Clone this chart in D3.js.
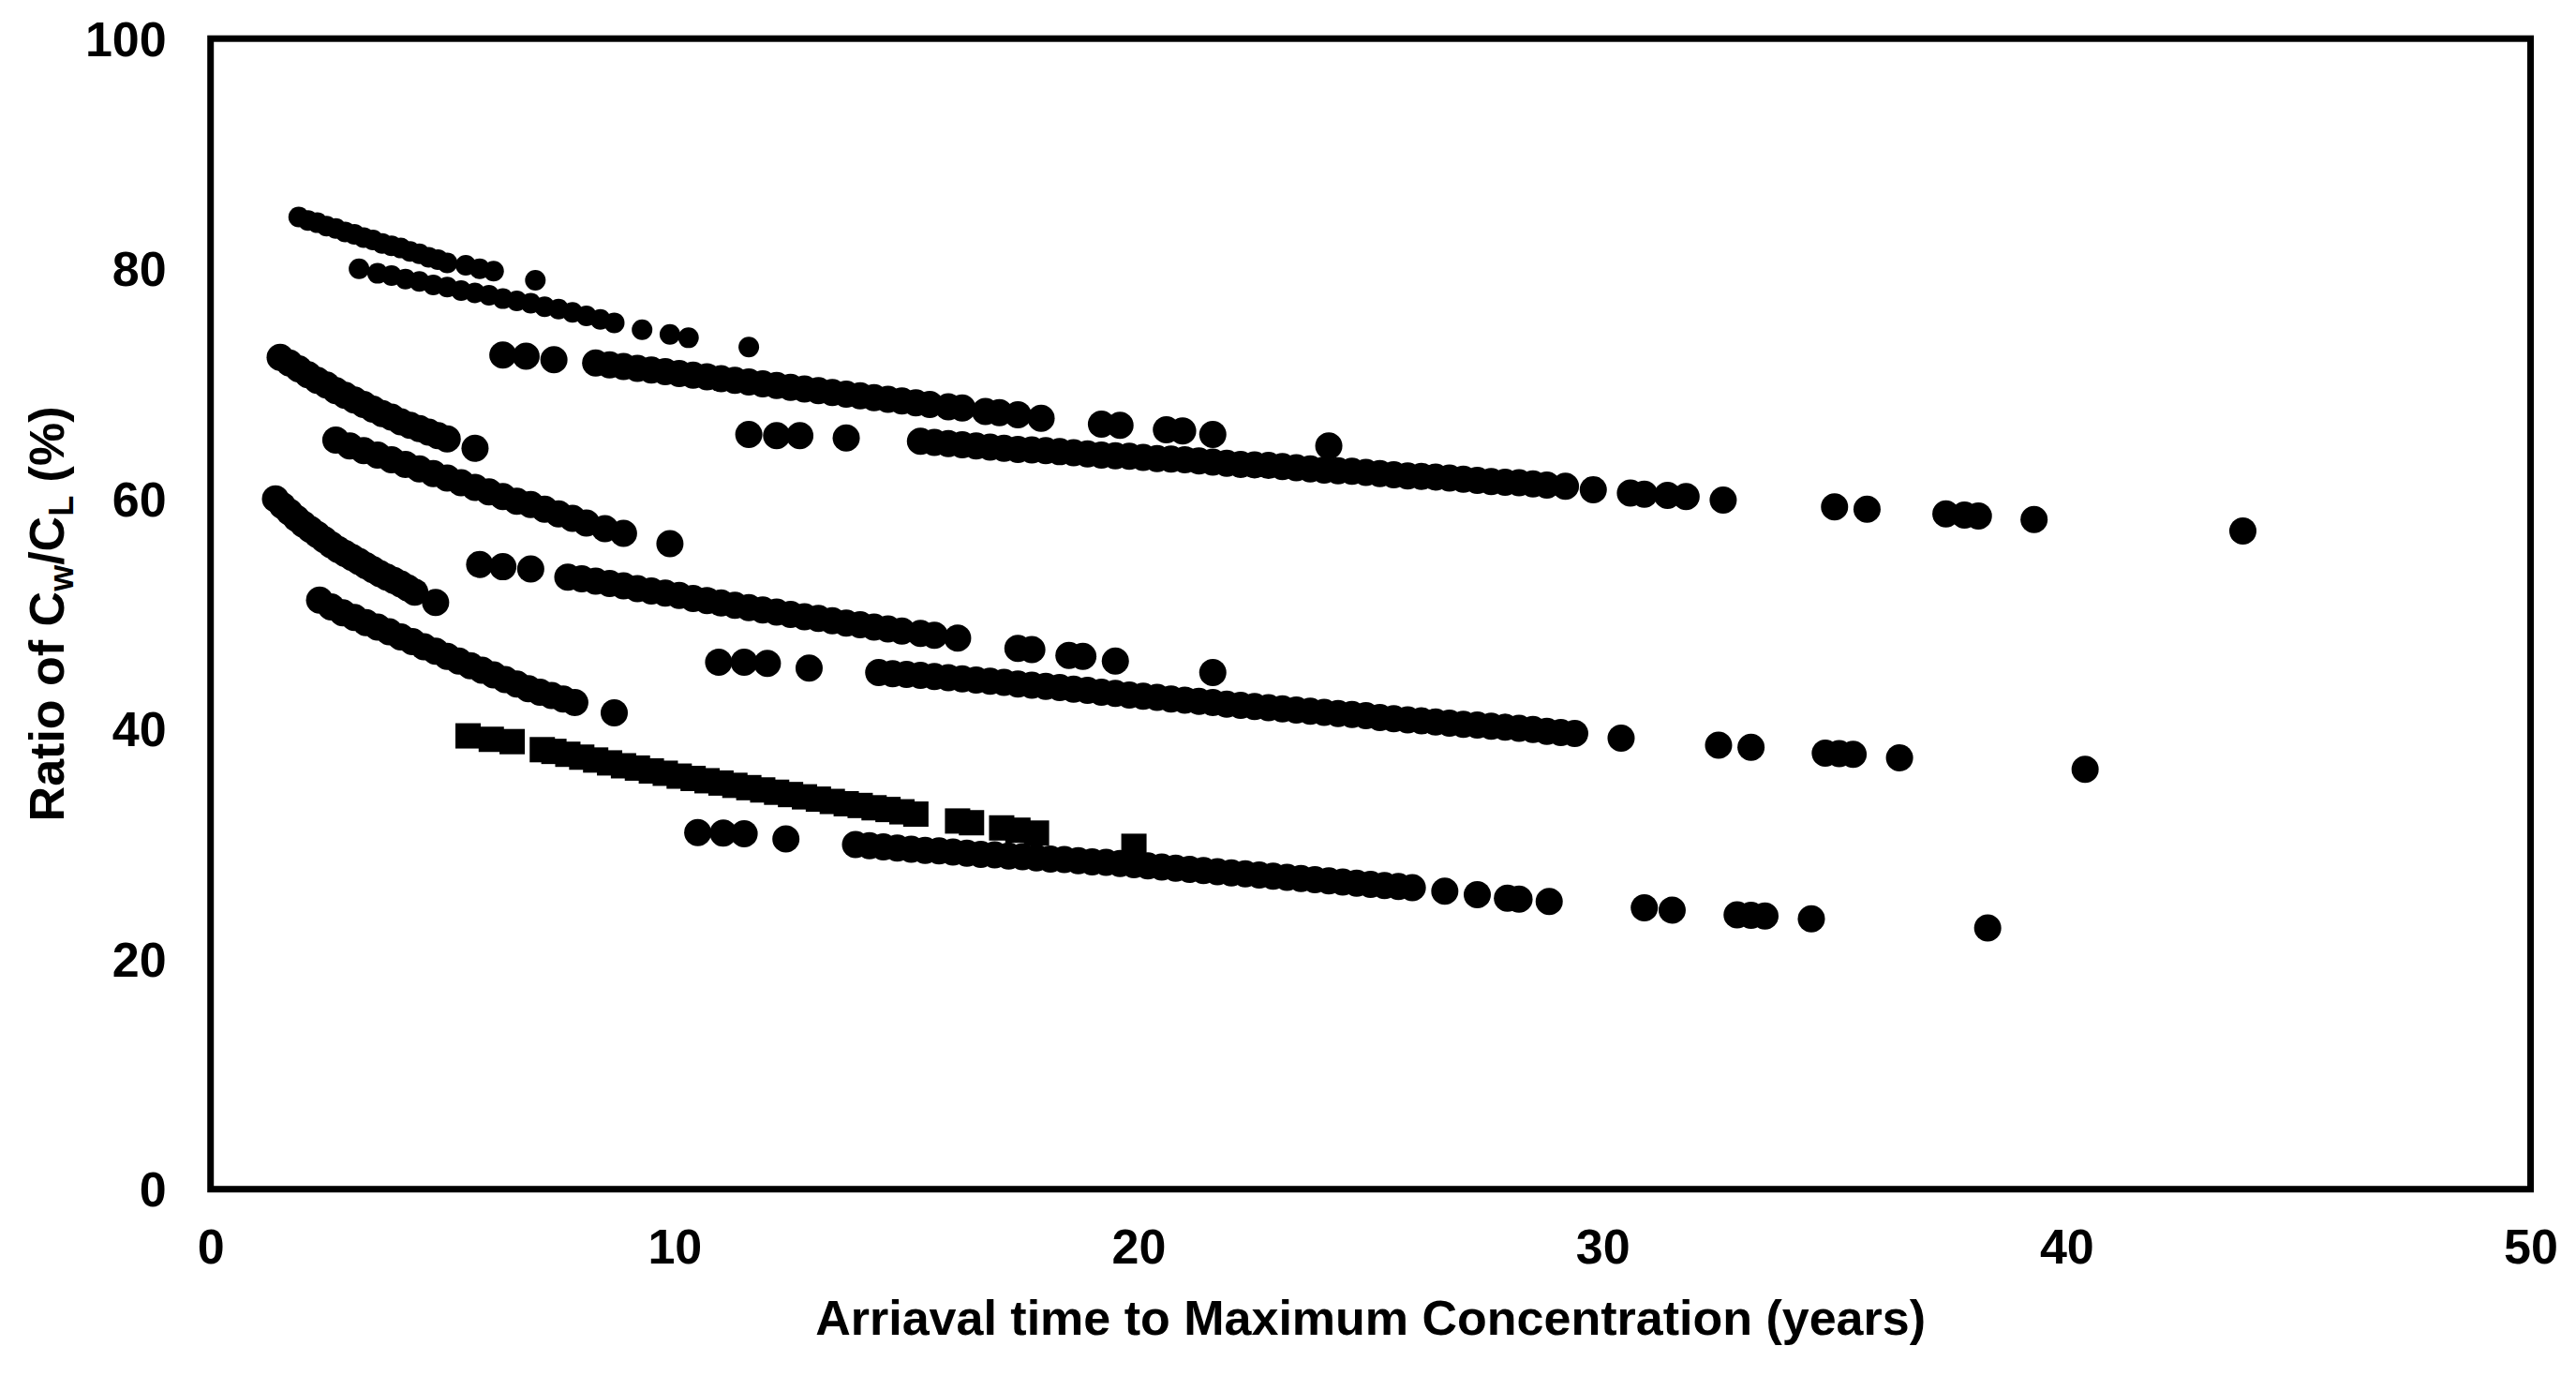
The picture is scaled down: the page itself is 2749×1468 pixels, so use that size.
<!DOCTYPE html>
<html>
<head>
<meta charset="utf-8">
<script src="https://cdn.jsdelivr.net/npm/d3@7"></script>
<style>
  html, body { margin: 0; padding: 0; background: #fff; }
  svg { display: block; }
  text { font-family: "Liberation Sans", Arial, sans-serif; font-weight: bold; fill: #000; }
</style>
</head>
<body>
<svg width="2749" height="1468"></svg>
<script>
'use strict'

const WIDTH = 2749;
const HEIGHT = 1468;
const LEFT = 224.7, RIGHT = 2700.5, TOP = 41.2, BOTTOM = 1268.7;
const R_SMALL = 11;
const R_BIG = 14.5;
const SQUARE = 27;

const xTicks = [0, 10, 20, 30, 40, 50];
const yTicks = [0, 20, 40, 60, 80, 100];

// top group
const seriesA1 = [[1.9,84.5],[2.1,84.2],[2.3,84.0],[2.5,83.7],[2.7,83.5],[2.9,83.2],[3.1,83.0],[3.3,82.7],[3.5,82.5],[3.7,82.2],[3.9,82.0],[4.1,81.8],[4.3,81.5],[4.5,81.3],[4.7,81.0],[4.9,80.8],[5.1,80.5],[5.5,80.3],[5.8,80.0],[6.1,79.8],[7.0,79.0]];
const seriesA2 = [[3.2,80.0],[3.6,79.6],[3.9,79.4],[4.2,79.1],[4.5,78.9],[4.8,78.6],[5.1,78.4],[5.4,78.1],[5.7,77.9],[6.0,77.7],[6.3,77.4],[6.6,77.2],[6.9,77.0],[7.2,76.7],[7.5,76.5],[7.8,76.2],[8.1,75.9],[8.4,75.6],[8.7,75.3],[9.3,74.7],[9.9,74.3],[10.3,74.0],[11.6,73.2]];
const seriesA3 = [[6.3,72.5],[6.8,72.4],[7.4,72.1],[8.3,71.8],[8.6,71.65],[8.9,71.5],[9.2,71.35],[9.5,71.2],[9.8,71.05],[10.1,70.9],[10.4,70.75],[10.7,70.6],[11.0,70.45],[11.3,70.3],[11.6,70.15],[11.9,70.0],[12.2,69.85],[12.5,69.7],[12.8,69.55],[13.1,69.4],[13.4,69.25],[13.7,69.1],[14.0,68.95],[14.3,68.8],[14.6,68.65],[14.9,68.5],[15.2,68.35],[15.5,68.2],[15.9,68.0],[16.2,67.9],[16.7,67.6],[17.0,67.5],[17.4,67.3],[17.9,67.0],[19.2,66.5],[19.6,66.4],[20.6,66.0],[20.95,65.9],[21.6,65.6],[24.1,64.6]];
const seriesA4 = [[11.6,65.6],[12.2,65.5],[12.7,65.5],[13.7,65.3],[15.3,65.0],[15.6,64.9],[15.9,64.8],[16.2,64.7],[16.5,64.6],[16.8,64.5],[17.1,64.4],[17.4,64.3],[17.7,64.25],[18.0,64.2],[18.3,64.1],[18.6,64.0],[18.9,63.9],[19.2,63.8],[19.5,63.75],[19.8,63.7],[20.1,63.6],[20.4,63.5],[20.7,63.45],[21.0,63.4],[21.3,63.3],[21.6,63.2],[21.9,63.1],[22.2,63.0],[22.5,62.95],[22.8,62.9],[23.1,62.8],[23.4,62.7],[23.7,62.6],[24.0,62.5],[24.3,62.45],[24.6,62.4],[24.9,62.3],[25.2,62.2],[25.5,62.1],[25.8,62.0],[26.1,61.95],[26.4,61.9],[26.7,61.8],[27.0,61.7],[27.3,61.6],[27.6,61.5],[27.9,61.45],[28.2,61.4],[28.5,61.3],[28.8,61.2],[29.2,61.1],[29.8,60.8],[30.6,60.5],[30.9,60.4],[31.4,60.3],[31.8,60.2],[32.6,59.9],[35.0,59.3],[35.7,59.1],[37.4,58.7],[37.8,58.6],[38.1,58.5],[39.3,58.2],[43.8,57.2]];

// second group
const seriesB1 = [[1.5,72.3],[1.7,71.8],[1.9,71.3],[2.1,70.8],[2.3,70.3],[2.5,69.9],[2.7,69.4],[2.9,69.0],[3.1,68.6],[3.3,68.2],[3.5,67.8],[3.7,67.4],[3.9,67.1],[4.1,66.7],[4.3,66.4],[4.5,66.1],[4.7,65.8],[4.9,65.5],[5.1,65.2],[5.7,64.4]];
const seriesB2 = [[2.7,65.1],[3.0,64.6],[3.3,64.2],[3.6,63.8],[3.9,63.4],[4.2,63.0],[4.5,62.6],[4.8,62.2],[5.1,61.8],[5.4,61.4],[5.7,61.0],[6.0,60.6],[6.3,60.2],[6.6,59.8],[6.9,59.5],[7.2,59.1],[7.5,58.7],[7.8,58.3],[8.1,57.9],[8.5,57.4],[8.9,57.0],[9.9,56.1]];
const seriesB3 = [[5.8,54.3],[6.3,54.1],[6.9,53.9],[7.7,53.2],[8.0,53.05],[8.3,52.85],[8.6,52.65],[8.9,52.45],[9.2,52.2],[9.5,52.0],[9.8,51.8],[10.1,51.6],[10.4,51.35],[10.7,51.15],[11.0,50.95],[11.3,50.75],[11.6,50.55],[11.9,50.35],[12.2,50.15],[12.5,49.95],[12.8,49.75],[13.1,49.6],[13.4,49.4],[13.7,49.2],[14.0,49.05],[14.3,48.85],[14.6,48.7],[14.9,48.5],[15.3,48.3],[15.6,48.15],[16.1,47.9],[17.4,47.0],[17.7,46.9],[18.5,46.4],[18.8,46.3],[19.5,45.9],[21.6,44.9]];
const seriesB4 = [[10.95,45.8],[11.5,45.8],[12.0,45.7],[12.9,45.3],[14.4,44.9],[14.7,44.8],[15.0,44.75],[15.3,44.65],[15.6,44.55],[15.9,44.45],[16.2,44.35],[16.5,44.25],[16.8,44.15],[17.1,44.05],[17.4,43.9],[17.7,43.8],[18.0,43.7],[18.3,43.6],[18.6,43.45],[18.9,43.35],[19.2,43.2],[19.5,43.1],[19.8,42.95],[20.1,42.85],[20.4,42.75],[20.7,42.6],[21.0,42.5],[21.3,42.4],[21.6,42.3],[21.9,42.15],[22.2,42.05],[22.5,41.95],[22.8,41.85],[23.1,41.75],[23.4,41.65],[23.7,41.55],[24.0,41.45],[24.3,41.35],[24.6,41.25],[24.9,41.15],[25.2,41.0],[25.5,40.9],[25.8,40.8],[26.1,40.7],[26.4,40.6],[26.7,40.5],[27.0,40.4],[27.3,40.35],[27.6,40.25],[27.9,40.15],[28.2,40.05],[28.5,39.95],[28.8,39.8],[29.1,39.7],[29.4,39.6],[30.4,39.2],[32.5,38.6],[33.2,38.4],[34.8,37.9],[35.1,37.85],[35.4,37.8],[36.4,37.5],[40.4,36.5]];

// third group (C3 drawn with squares)
const seriesC1 = [[1.4,60.0],[1.55,59.4],[1.7,58.85],[1.85,58.3],[2.0,57.8],[2.15,57.35],[2.3,56.9],[2.45,56.45],[2.6,56.0],[2.75,55.6],[2.9,55.25],[3.05,54.9],[3.2,54.55],[3.35,54.2],[3.5,53.85],[3.65,53.5],[3.8,53.2],[3.95,52.9],[4.1,52.6],[4.25,52.25],[4.4,51.9],[4.85,51.0]];
const seriesC2 = [[2.35,51.2],[2.6,50.6],[2.85,50.1],[3.1,49.7],[3.35,49.25],[3.6,48.85],[3.85,48.45],[4.1,48.0],[4.35,47.6],[4.6,47.15],[4.85,46.75],[5.1,46.3],[5.35,45.9],[5.6,45.5],[5.85,45.1],[6.1,44.7],[6.35,44.3],[6.6,43.9],[6.85,43.5],[7.1,43.2],[7.35,42.9],[7.6,42.6],[7.85,42.3],[8.7,41.4]];
const seriesC3 = [[5.55,39.4],[6.05,39.1],[6.5,38.9],[7.15,38.2],[7.4,38.05],[7.7,37.8],[8.0,37.55],[8.3,37.3],[8.6,37.05],[8.9,36.8],[9.2,36.6],[9.5,36.35],[9.8,36.15],[10.1,35.9],[10.4,35.7],[10.7,35.5],[11.0,35.3],[11.3,35.1],[11.6,34.9],[11.9,34.7],[12.2,34.5],[12.5,34.3],[12.8,34.1],[13.1,33.9],[13.4,33.7],[13.7,33.5],[14.0,33.35],[14.3,33.15],[14.6,33.0],[14.9,32.8],[15.2,32.6],[16.1,32.0],[16.4,31.85],[17.05,31.4],[17.4,31.2],[17.8,30.95],[19.9,29.8]];
const seriesC4 = [[10.5,31.0],[11.05,30.95],[11.5,30.9],[12.4,30.45],[13.9,29.95],[14.2,29.85],[14.5,29.75],[14.8,29.65],[15.1,29.55],[15.4,29.45],[15.7,29.4],[16.0,29.3],[16.3,29.2],[16.6,29.1],[16.9,29.05],[17.2,28.95],[17.5,28.9],[17.8,28.8],[18.1,28.7],[18.4,28.65],[18.7,28.55],[19.0,28.45],[19.3,28.4],[19.6,28.3],[19.9,28.2],[20.2,28.1],[20.5,28.0],[20.8,27.9],[21.1,27.8],[21.4,27.7],[21.7,27.6],[22.0,27.5],[22.3,27.4],[22.6,27.3],[22.9,27.2],[23.2,27.1],[23.5,27.0],[23.8,26.9],[24.1,26.8],[24.4,26.7],[24.7,26.6],[25.0,26.5],[25.3,26.4],[25.6,26.3],[25.9,26.2],[26.6,25.9],[27.3,25.6],[27.95,25.3],[28.2,25.2],[28.85,25.0],[30.9,24.45],[31.5,24.25],[32.9,23.85],[33.2,23.8],[33.5,23.75],[34.5,23.5],[38.3,22.7]];

const circleSeries = [
  { data: seriesA1, r: R_SMALL },
  { data: seriesA2, r: R_SMALL },
  { data: seriesA3, r: R_BIG },
  { data: seriesA4, r: R_BIG },
  { data: seriesB1, r: R_BIG },
  { data: seriesB2, r: R_BIG },
  { data: seriesB3, r: R_BIG },
  { data: seriesB4, r: R_BIG },
  { data: seriesC1, r: R_BIG },
  { data: seriesC2, r: R_BIG },
  { data: seriesC4, r: R_BIG }
];

const svg = d3.select('svg');

const x = d3.scaleLinear().domain([0, 50]).range([LEFT, RIGHT]);
const y = d3.scaleLinear().domain([0, 100]).range([BOTTOM, TOP]);

drawAxes();
drawPoints();
drawFrame();
drawTitles();

function drawAxes() {
  // tick labels only, the chart has no tick marks
  const xAxis = svg.append('g')
    .attr('transform', `translate(0,${BOTTOM})`)
    .call(d3.axisBottom(x).tickValues(xTicks).tickSize(0).tickPadding(0));
  xAxis.select('.domain').remove();
  xAxis.selectAll('text')
    .attr('y', 79)
    .attr('dy', 0)
    .style('font-size', '52px');

  const yAxis = svg.append('g')
    .attr('transform', `translate(${LEFT},0)`)
    .call(d3.axisLeft(y).tickValues(yTicks).tickSize(0).tickPadding(0));
  yAxis.select('.domain').remove();
  yAxis.selectAll('text')
    .attr('x', -47)
    .attr('dy', 0)
    .attr('y', 18)
    .style('font-size', '52px');
}

function drawPoints() {
  const g = svg.append('g');

  circleSeries.forEach(s => {
    g.append('g')
      .selectAll('circle')
      .data(s.data)
      .join('circle')
      .attr('cx', d => x(d[0]))
      .attr('cy', d => y(d[1]))
      .attr('r', s.r)
      .style('fill', '#000');
  });

  g.append('g')
    .selectAll('rect')
    .data(seriesC3)
    .join('rect')
    .attr('x', d => x(d[0]) - SQUARE / 2)
    .attr('y', d => y(d[1]) - SQUARE / 2)
    .attr('width', SQUARE)
    .attr('height', SQUARE)
    .style('fill', '#000');
}

function drawFrame() {
  svg.append('rect')
    .attr('x', LEFT)
    .attr('y', TOP)
    .attr('width', RIGHT - LEFT)
    .attr('height', BOTTOM - TOP)
    .style('fill', 'none')
    .style('stroke', '#000')
    .style('stroke-width', 7);
}

function drawTitles() {
  svg.append('text')
    .attr('x', (LEFT + RIGHT) / 2)
    .attr('y', 1424)
    .attr('text-anchor', 'middle')
    .style('font-size', '52px')
    .text('Arriaval time to Maximum Concentration (years)');

  const t = svg.append('text')
    .attr('transform', `translate(68,${(TOP + BOTTOM) / 2}) rotate(-90)`)
    .attr('text-anchor', 'middle')
    .style('font-size', '52px');
  t.append('tspan').text('Ratio of C');
  t.append('tspan').attr('dy', 10).style('font-size', '36px').text('w');
  t.append('tspan').attr('dy', -10).text('/C');
  t.append('tspan').attr('dy', 10).style('font-size', '36px').text('L');
  t.append('tspan').attr('dy', -10).text(' (%)');
}
</script>
</body>
</html>
